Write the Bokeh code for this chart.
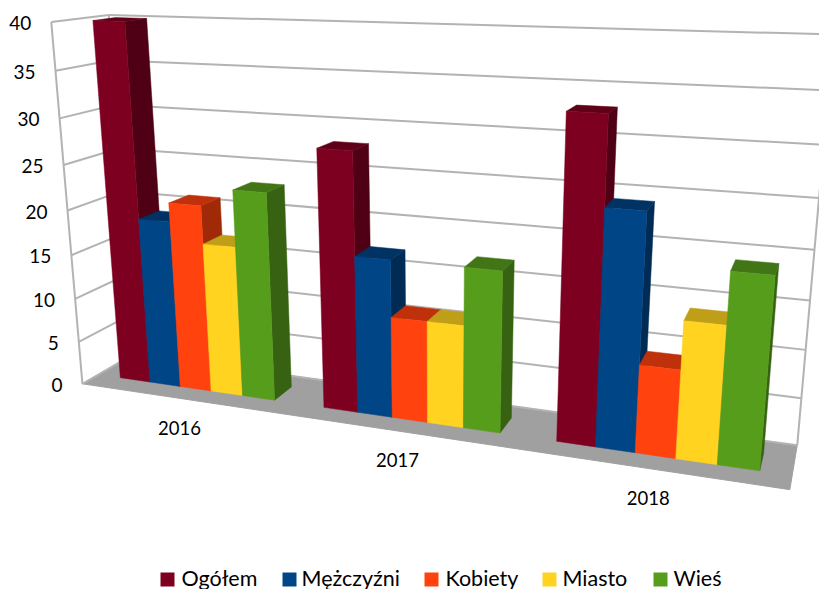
import numpy as np
from bokeh.plotting import figure
from bokeh.models import Range1d
from bokeh.core.properties import value
from bokeh.embed import file_html
from bokeh.resources import INLINE

years = ["2016", "2017", "2018"]
series = ["Ogółem", "Mężczyźni", "Kobiety", "Miasto", "Wieś"]
ogolem = [40.0, 28.0, 33.0]
mezczyzni = [18.9, 17.1, 24.2]
kobiety = [21.0, 11.0, 9.1]
miasto = [16.8, 11.0, 14.0]
wies = [23.0, 17.1, 19.2]
y_ticks = [0, 5, 10, 15, 20, 25, 30, 35, 40]
colors = ["#7E0021", "#004586", "#FF420E", "#FFD320", "#579D1C"]
y_max = 40

W, H = 819, 589
GAP = 1.5
Z0, Z1 = 0.3, 0.7

# camera: unit box corners (u, v, w) -> picture
corr = [((0,0,0),(82,384)),((1,0,0),(789,489)),((0,0,1),(133,353)),((1,0,1),(797,445)),
        ((0,1,0),(51,21)),((0,1,1),(108,15)),((1,1,1),(833,34))]
A = []
for (u,v,w),(x,y) in corr:
    A.append([u,v,w,1,0,0,0,0,-x*u,-x*v,-x*w,-x])
    A.append([0,0,0,0,u,v,w,1,-y*u,-y*v,-y*w,-y])
P = np.linalg.svd(np.array(A,float))[2][-1].reshape(3,4)

def pr(u, val, w):
    q = P @ np.array([u, val/y_max, w, 1.0])
    return q[0]/q[2], q[1]/q[2]

def shade(c, k):
    r,g,b = int(c[1:3],16),int(c[3:5],16),int(c[5:7],16)
    return "#%02X%02X%02X" % (int(r*k),int(g*k),int(b*k))

p = figure(width=W, height=H, x_range=Range1d(0,W), y_range=Range1d(H,0),
           toolbar_location=None, output_backend="svg", min_border=0,
           x_axis_location=None, y_axis_location=None)
p.xgrid.visible = False; p.ygrid.visible = False
p.outline_line_color = None

GRID = "#B3B3B3"
# floor
fl = [pr(0,0,0), pr(1,0,0), pr(1,0,1), pr(0,0,1)]
p.patch([a[0] for a in fl],[a[1] for a in fl], fill_color="#A0A0A0", line_color="#A0A0A0")

xs,ys = [],[]
for t in y_ticks:
    for a,b in [(pr(0,t,0),pr(0,t,1)),(pr(0,t,1),pr(1,t,1))]:
        xs.append([a[0],b[0]]); ys.append([a[1],b[1]])
for a,b in [(pr(0,0,0),pr(0,y_max,0)),(pr(0,0,1),pr(0,y_max,1)),(pr(1,0,1),pr(1,y_max,1))]:
    xs.append([a[0],b[0]]); ys.append([a[1],b[1]])
p.multi_line(xs, ys, line_color=GRID, line_width=2)

# bars
table = [ogolem, mezczyzni, kobiety, miasto, wies]
bx,by,bc = [],[],[]
def face(pts, c):
    bx.append([a[0] for a in pts]); by.append([a[1] for a in pts]); bc.append(c)
bw = (1/3)/(len(series)+GAP)
for i in range(len(years)):
    for j in range(len(series)):
        u0 = i/3 + (GAP/2 + j)*bw
        u1 = u0 + bw
        val = table[j][i]
        c = colors[j]
        face([pr(u1,0,Z0),pr(u1,0,Z1),pr(u1,val,Z1),pr(u1,val,Z0)], shade(c,0.63))
        face([pr(u0,val,Z0),pr(u1,val,Z0),pr(u1,val,Z1),pr(u0,val,Z1)], shade(c,0.75))
        face([pr(u0,0,Z0),pr(u1,0,Z0),pr(u1,val,Z0),pr(u0,val,Z0)], c)
p.patches(bx, by, fill_color=bc, line_color=bc, line_width=0.5)

FONT = value("Lato")
# value axis labels follow the front-left edge
lx = [pr(0,t,0)[0]-20 for t in y_ticks]
ly = [pr(0,t,0)[1]+1 for t in y_ticks]
p.text(lx, ly, text=[str(t) for t in y_ticks], text_align="right", text_baseline="middle",
       text_font=FONT, text_font_size="19px", text_color="#000000")

# category labels below front edge
cx,cy = [],[]
for i in range(len(years)):
    a = pr((i+0.5)/3, 0, 0)
    cx.append(a[0]-1.5); cy.append(a[1]+29)
p.text(cx, cy, text=years, text_align="center", text_baseline="middle",
       text_font=FONT, text_font_size="18.5px", text_color="#000000")

# legend
sq_x = [160, 282, 424, 542, 653]
tx_x = [181, 301, 445, 562, 673]
p.quad(left=sq_x, right=[a+14 for a in sq_x], top=[572]*5, bottom=[586]*5, fill_color=colors, line_color=None)
p.text(tx_x, [577]*5, text=series, text_align="left", text_baseline="middle",
       text_font=FONT, text_font_size="21.5px", text_color="#000000")

open("out.html", "w").write(file_html(p, INLINE))
